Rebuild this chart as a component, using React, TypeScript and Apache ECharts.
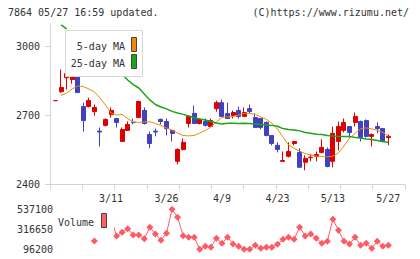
import React, { useEffect, useRef } from 'react';
import * as echarts from 'echarts';

// 65 category slots; candles occupy slots 1..61
const categories: string[] = Array.from({ length: 65 }, (_, i) => String(i));
const labelIndex = [11, 21, 31, 41, 51, 61];
const labelDates = ['3/11', '3/26', '4/9', '4/23', '5/13', '5/27'];

const opens = [2765, 2804, 2865, 2857, 2870, 2739, 2739, 2717, 2632, 2657, 2704, 2687, 2587, 2635, 2671, 2691, 2722, 2617, 2632, 2683, 2674, 2635, 2500, 2552, 2665, 2709, 2665, 2674, 2652, 2730, 2756, 2709, 2700, 2722, 2696, 2730, 2691, 2687, 2670, 2613, 2570, 2500, 2522, 2578, 2539, 2496, 2516, 2522, 2539, 2552, 2500, 2587, 2635, 2652, 2670, 2674, 2678, 2609, 2652, 2643, 2604];
const closes = [2765, 2822, 2883, 2913, 2800, 2678, 2765, 2735, 2628, 2683, 2722, 2670, 2639, 2661, 2669, 2761, 2665, 2578, 2628, 2674, 2643, 2622, 2552, 2583, 2696, 2665, 2683, 2657, 2678, 2756, 2696, 2687, 2713, 2696, 2713, 2717, 2648, 2648, 2613, 2578, 2552, 2504, 2543, 2587, 2474, 2513, 2518, 2530, 2561, 2478, 2622, 2652, 2670, 2626, 2696, 2604, 2609, 2617, 2643, 2587, 2609];
const lows = [2765, 2800, 2813, 2839, 2798, 2630, 2735, 2700, 2565, 2652, 2691, 2648, 2587, 2635, 2661, 2691, 2661, 2557, 2609, 2661, 2613, 2587, 2487, 2548, 2648, 2665, 2661, 2652, 2652, 2717, 2696, 2687, 2687, 2687, 2696, 2709, 2648, 2639, 2609, 2570, 2539, 2500, 2517, 2570, 2474, 2461, 2500, 2500, 2535, 2474, 2474, 2548, 2626, 2604, 2652, 2587, 2604, 2565, 2622, 2583, 2570];
const highs = [2765, 2900, 2900, 2935, 2878, 2756, 2778, 2748, 2648, 2687, 2735, 2687, 2648, 2674, 2687, 2765, 2735, 2630, 2643, 2687, 2687, 2635, 2557, 2600, 2700, 2743, 2687, 2687, 2687, 2765, 2770, 2756, 2722, 2739, 2735, 2748, 2709, 2687, 2674, 2613, 2583, 2543, 2583, 2587, 2557, 2526, 2530, 2543, 2596, 2561, 2652, 2674, 2687, 2652, 2713, 2678, 2683, 2622, 2670, 2643, 2617];

const ma5 = [null, 2787, 2798, 2816, 2829, 2826, 2816, 2803, 2777, 2746, 2711, 2702, 2705, 2687, 2672, 2670, 2672, 2673, 2665, 2657, 2646, 2637, 2623, 2613, 2611, 2613, 2624, 2635, 2650, 2672, 2692, 2694, 2696, 2702, 2709, 2709, 2705, 2694, 2683, 2667, 2641, 2606, 2571, 2557, 2545, 2534, 2528, 2523, 2521, 2520, 2523, 2537, 2567, 2601, 2622, 2642, 2646, 2642, 2635, 2626, 2611];
const ma25 = [null, 3095, 3078, null, null, null, null, null, null, null, null, null, 2881, 2855, 2835, 2820, 2794, 2768, 2748, 2737, 2729, 2718, 2711, 2705, 2698, 2690, 2685, 2680, 2674, 2667, 2663, 2666, 2666, 2665, 2666, 2665, 2663, 2661, 2659, 2657, 2653, 2643, 2639, 2637, 2633, 2626, 2623, 2618, 2617, 2613, 2611, 2609, 2609, 2609, 2604, 2602, 2598, 2595, 2591, 2587, 2582];
const volumes = [null, null, null, null, null, null, null, 188000, null, null, 440000, 243000, 283600, 324000, 254000, 254000, 213800, 338700, 265000, 195400, 272600, 537100, 448900, 246800, 228500, 228500, 96200, 129300, 118200, 217400, 162300, 228500, 155000, 129300, 97500, 98000, 140300, 107200, 118200, 118200, 151300, 206400, 228500, 206400, 338700, 243000, 265000, 217400, 162300, 184400, 426900, 305600, 184400, 155000, 228500, 140300, 162300, 107200, 184400, 129300, 140300];

const priceTicks = [2400, 2700, 3000];
const volumeTicks = [96200, 316650, 537100];

const FONT = 'DejaVu Sans Mono';
const UP = '#dd0000';
const DOWN = '#4040c0';
const VOL = '#ff5a64';

export default function App() {
  const ref = useRef<HTMLDivElement>(null);
  useEffect(() => {
    const chart = echarts.init(ref.current!, null, { renderer: 'svg' });
    const candleData = opens.map((o, i) => [i + 1, o, closes[i], lows[i], highs[i]]);
    const toLine = (arr: (number | null)[]) => arr.map((v, i) => [i + 1, v == null ? '-' : v]);
    const plain = (v: number) => String(v);
    chart.setOption({
      animation: false,
      backgroundColor: '#fff',
      grid: [
        { left: 50, width: 355, top: 23.8, height: 160.5 },
        { left: 50, width: 355, top: 183.3, height: 1 },
        { left: 50, width: 355, top: 209.3, height: 40 },
      ],
      xAxis: [
        {
          type: 'category', gridIndex: 0, data: categories, boundaryGap: false,
          axisLine: { lineStyle: { color: '#d4d4d4' } },
          axisTick: { show: false },
          axisLabel: {
            interval: 0, margin: 9, color: '#333', fontFamily: FONT, fontSize: 10,
            formatter: (_v: string, i: number) => {
              const k = labelIndex.indexOf(i);
              return k >= 0 ? labelDates[k] : '';
            },
          },
          splitLine: { show: false },
        },
        {
          type: 'value', gridIndex: 1, min: 0, max: 11, interval: 1,
          axisLine: { show: false },
          axisTick: { show: true, length: 5, lineStyle: { color: '#d4d4d4' } },
          axisLabel: { show: false },
          splitLine: { show: false },
        },
        {
          type: 'category', gridIndex: 2, data: categories, boundaryGap: false, show: false,
        },
      ],
      yAxis: [
        {
          type: 'value', gridIndex: 0, min: 2400, max: 3100, interval: 300, scale: true,
          axisLine: { show: true, lineStyle: { color: '#d4d4d4' } },
          axisTick: { show: true, length: 5, customValues: priceTicks, lineStyle: { color: '#d4d4d4' } },
          axisLabel: { customValues: priceTicks, formatter: plain, margin: 10, color: '#333', fontFamily: FONT, fontSize: 10 },
          splitLine: { show: false },
        },
        { type: 'value', gridIndex: 1, show: false },
        {
          type: 'value', gridIndex: 2, min: 96200, max: 537100, scale: true,
          axisLine: { show: false },
          axisTick: { show: false },
          axisLabel: { customValues: volumeTicks, formatter: plain, margin: -3, color: '#333', fontFamily: FONT, fontSize: 10 },
          splitLine: { show: false },
        },
      ],
      series: [
        {
          type: 'candlestick', xAxisIndex: 0, yAxisIndex: 0, barWidth: 4.5,
          encode: { x: 0, y: [1, 2, 3, 4] },
          itemStyle: { color: UP, color0: DOWN, borderColor: UP, borderColor0: DOWN, borderWidth: 1 },
          data: candleData,
        },
        {
          type: 'line', xAxisIndex: 0, yAxisIndex: 0, data: toLine(ma5), symbol: 'none',
          lineStyle: { color: '#f08a00', width: 1 }, itemStyle: { color: '#f08a00' },
        },
        {
          type: 'line', xAxisIndex: 0, yAxisIndex: 0, data: toLine(ma25), symbol: 'none',
          lineStyle: { color: '#1aa51a', width: 1.5 }, itemStyle: { color: '#1aa51a' },
        },
        {
          type: 'line', xAxisIndex: 2, yAxisIndex: 2, data: toLine(volumes), symbol: 'diamond',
          symbolSize: 7, clip: false, showAllSymbol: true,
          lineStyle: { color: VOL, width: 1 }, itemStyle: { color: VOL },
        },
      ],
      graphic: [
        { type: 'text', left: 8, top: 7, z: 100, style: { text: '7864 05/27 16:59 updated.', font: `10px ${FONT}`, fill: '#333' } },
        { type: 'text', right: 11, top: 7, z: 100, style: { text: '(C)https://www.rizumu.net/', font: `10px ${FONT}`, fill: '#333' } },
        { type: 'rect', z: 100, shape: { x: 65.5, y: 30.5, width: 77, height: 46 }, style: { fill: '#fff', stroke: '#d8d8d8', lineWidth: 1 } },
        { type: 'text', z: 101, x: 125, y: 46.5, style: { text: '5-day MA', font: `10px ${FONT}`, fill: '#333', align: 'right', verticalAlign: 'middle' } },
        { type: 'text', z: 101, x: 125, y: 63, style: { text: '25-day MA', font: `10px ${FONT}`, fill: '#333', align: 'right', verticalAlign: 'middle' } },
        { type: 'rect', z: 101, shape: { x: 131.5, y: 37.5, width: 5, height: 14 }, style: { fill: '#f08a00', stroke: '#444', lineWidth: 1 } },
        { type: 'rect', z: 101, shape: { x: 131.5, y: 54.5, width: 5, height: 14 }, style: { fill: '#1aa51a', stroke: '#444', lineWidth: 1 } },
        { type: 'rect', z: 100, shape: { x: 55, y: 208, width: 59, height: 28 }, style: { fill: '#fff' } },
        { type: 'text', z: 101, x: 58, y: 222.5, style: { text: 'Volume', font: `10px ${FONT}`, fill: '#333', verticalAlign: 'middle' } },
        { type: 'rect', z: 101, shape: { x: 101.5, y: 213.5, width: 5, height: 14 }, style: { fill: '#ff6060', stroke: '#444', lineWidth: 1 } },
      ],
    });
    return () => chart.dispose();
  }, []);
  return <div ref={ref} style={{ position: 'absolute', left: 0, top: 0, width: 420, height: 259 }} />;
}
